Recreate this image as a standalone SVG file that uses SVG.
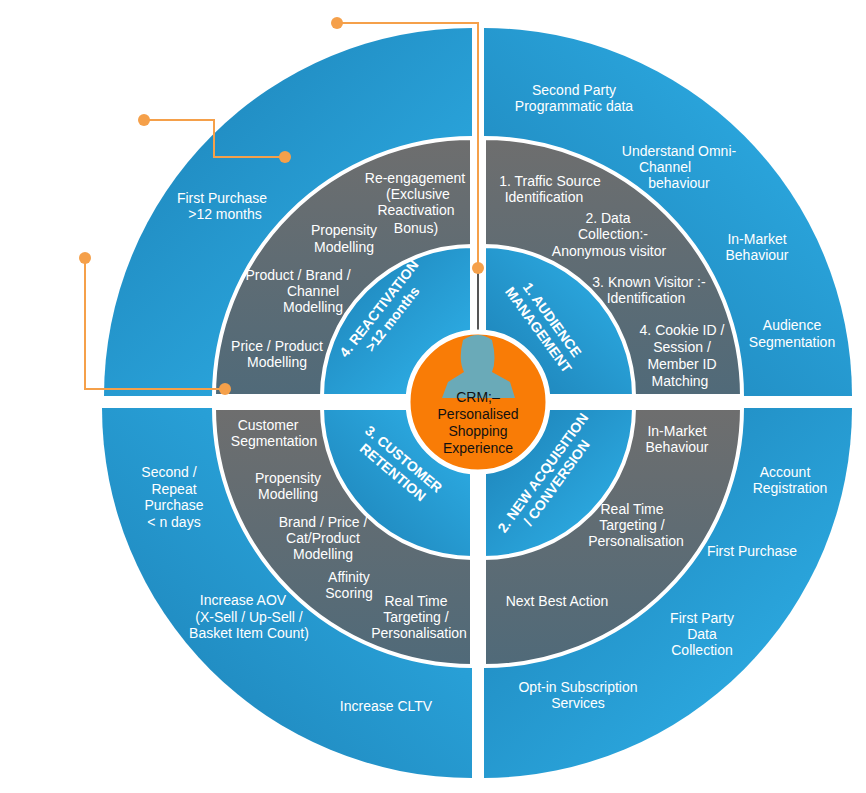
<svg xmlns="http://www.w3.org/2000/svg" width="866" height="793" viewBox="0 0 866 793">
<defs>
<linearGradient id="gb" x1="0" y1="0" x2="1" y2="1"><stop offset="0" stop-color="#1c80b5"/><stop offset="1" stop-color="#30b4ec"/></linearGradient>
<linearGradient id="gb2" x1="1" y1="0" x2="0" y2="1"><stop offset="0" stop-color="#2fb2ea"/><stop offset="1" stop-color="#1c7fb4"/></linearGradient>
<linearGradient id="gg" x1="0" y1="0" x2="0" y2="1"><stop offset="0" stop-color="#6e6e6e"/><stop offset="1" stop-color="#506a79"/></linearGradient>
<style>
.t{font-family:"Liberation Sans",Arial,sans-serif;font-size:14px;fill:#fff;text-anchor:middle}
.h{font-family:"Liberation Sans",Arial,sans-serif;font-size:14px;font-weight:bold;fill:#fff;text-anchor:middle}
.c{font-family:"Liberation Sans",Arial,sans-serif;font-size:14px;fill:#111;text-anchor:middle}
.ring{stroke:#fff;stroke-width:4}
.con{fill:none;stroke:#f5a04a;stroke-width:2}
.dot{fill:#f5a04a}
</style>
</defs>
<rect width="866" height="793" fill="#fff"/>
<g id="q-tl">
<path d="M104 396 A368 368 0 0 1 472 28 L472 396 Z" fill="url(#gb)"/>
<path class="ring" d="M214 396 A258 258 0 0 1 472 138 L472 396 Z" fill="url(#gg)"/>
<path class="ring" d="M322 396 A150 150 0 0 1 472 246 L472 396 Z" fill="url(#gb)"/>
</g>
<g id="q-tr">
<path d="M484 28 A368 368 0 0 1 852 396 L484 396 Z" fill="url(#gb2)"/>
<path class="ring" d="M484 138 A258 258 0 0 1 742 396 L484 396 Z" fill="url(#gg)"/>
<path class="ring" d="M484 246 A150 150 0 0 1 634 396 L484 396 Z" fill="url(#gb2)"/>
</g>
<g id="q-bl">
<path d="M472 778 A370 370 0 0 1 102 408 L472 408 Z" fill="url(#gb2)"/>
<path class="ring" d="M472 666 A258 258 0 0 1 214 408 L472 408 Z" fill="url(#gg)"/>
<path class="ring" d="M472 558 A150 150 0 0 1 322 408 L472 408 Z" fill="url(#gb2)"/>
</g>
<g id="q-br">
<path d="M852 408 A370 370 0 0 1 484 778 L484 408 Z" fill="url(#gb)"/>
<path class="ring" d="M742 408 A258 258 0 0 1 484 666 L484 408 Z" fill="url(#gg)"/>
<path class="ring" d="M634 408 A150 150 0 0 1 484 558 L484 408 Z" fill="url(#gb)"/>
</g>
<g id="connectors">
<line x1="478" y1="30" x2="478" y2="400" stroke="#555" stroke-width="2"/>
<polyline class="con" points="337,23 478,23 478,268"/>
<polyline class="con" points="144,120 214,120 214,157 285,157"/>
<polyline class="con" points="85,258 85,389 225,389"/>
<circle class="dot" cx="337" cy="23" r="6"/><circle class="dot" cx="478" cy="268" r="6"/>
<circle class="dot" cx="144" cy="120" r="6"/><circle class="dot" cx="285" cy="157" r="6"/>
<circle class="dot" cx="85" cy="258" r="6"/><circle class="dot" cx="225" cy="389" r="6"/>
</g>
<g id="center">
<circle cx="478" cy="402" r="70" fill="#f97c06" stroke="#fff" stroke-width="5"/>
<path d="M463 340 Q478 330 492 340 Q497 360 492 372 L510 382 L515 398 L442 398 L448 382 L464 372 Q458 360 463 340 Z" fill="#6aaab8"/>
<text class="c" x="478" y="402">CRM;–</text>
<text class="c" x="478" y="419">Personalised</text>
<text class="c" x="478" y="436">Shopping</text>
<text class="c" x="478" y="453">Experience</text>
</g>
<g id="inner-labels">
<text class="h" transform="translate(545,325) rotate(54)"><tspan x="0" y="-4">1. AUDIENCE</tspan><tspan x="0" y="13">MANAGEMENT</tspan></text>
<text class="h" transform="translate(386,314) rotate(-52)"><tspan x="0" y="-4">4. REACTIVATION</tspan><tspan x="0" y="13">&gt;12 months</tspan></text>
<text class="h" transform="translate(398,466) rotate(40)"><tspan x="0" y="-4">3. CUSTOMER</tspan><tspan x="0" y="13">RETENTION</tspan></text>
<text class="h" transform="translate(550,478) rotate(-54)"><tspan x="0" y="-4">2. NEW ACQUISITION</tspan><tspan x="0" y="13">/ CONVERSION</tspan></text>
</g>
<g id="tl-text">
<text class="t"><tspan x="222" y="203">First Purchase</tspan><tspan x="225" y="219">&gt;12 months</tspan></text>
<text class="t"><tspan x="415" y="183">Re-engagement</tspan><tspan x="418" y="199">(Exclusive</tspan><tspan x="416" y="215">Reactivation</tspan><tspan x="416" y="233">Bonus)</tspan></text>
<text class="t"><tspan x="344" y="235">Propensity</tspan><tspan x="344" y="252">Modelling</tspan></text>
<text class="t"><tspan x="298" y="280">Product / Brand /</tspan><tspan x="313" y="296">Channel</tspan><tspan x="313" y="312">Modelling</tspan></text>
<text class="t"><tspan x="277" y="351">Price / Product</tspan><tspan x="277" y="367">Modelling</tspan></text>
</g>
<g id="tr-text">
<text class="t"><tspan x="574" y="95">Second Party</tspan><tspan x="574" y="111">Programmatic data</tspan></text>
<text class="t"><tspan x="679" y="156">Understand Omni-</tspan><tspan x="665" y="172">Channel</tspan><tspan x="679" y="188">behaviour</tspan></text>
<text class="t"><tspan x="757" y="244">In-Market</tspan><tspan x="757" y="260">Behaviour</tspan></text>
<text class="t"><tspan x="792" y="330">Audience</tspan><tspan x="792" y="347">Segmentation</tspan></text>
<text class="t"><tspan x="550" y="186">1. Traffic Source</tspan><tspan x="544" y="202">Identification</tspan></text>
<text class="t"><tspan x="608" y="223">2. Data</tspan><tspan x="613" y="239">Collection:-</tspan><tspan x="609" y="256">Anonymous  visitor</tspan></text>
<text class="t"><tspan x="649" y="287">3. Known Visitor :-</tspan><tspan x="646" y="303">Identification</tspan></text>
<text class="t"><tspan x="682" y="335">4. Cookie ID /</tspan><tspan x="682" y="352">Session /</tspan><tspan x="682" y="369">Member ID</tspan><tspan x="680" y="386">Matching</tspan></text>
</g>
<g id="bl-text">
<text class="t"><tspan x="268" y="430">Customer</tspan><tspan x="274" y="446">Segmentation</tspan></text>
<text class="t"><tspan x="288" y="483">Propensity</tspan><tspan x="288" y="499">Modelling</tspan></text>
<text class="t"><tspan x="323" y="527">Brand / Price /</tspan><tspan x="323" y="543">Cat/Product</tspan><tspan x="323" y="559">Modelling</tspan></text>
<text class="t"><tspan x="349" y="582">Affinity</tspan><tspan x="349" y="598">Scoring</tspan></text>
<text class="t"><tspan x="416" y="606">Real Time</tspan><tspan x="416" y="622">Targeting /</tspan><tspan x="419" y="638">Personalisation</tspan></text>
<text class="t"><tspan x="169" y="477">Second /</tspan><tspan x="174" y="494">Repeat</tspan><tspan x="174" y="510">Purchase</tspan><tspan x="174" y="527">&lt; n days</tspan></text>
<text class="t"><tspan x="243" y="605">Increase AOV</tspan><tspan x="249" y="622">(X-Sell / Up-Sell /</tspan><tspan x="249" y="638">Basket Item Count)</tspan></text>
<text class="t" x="386" y="711">Increase CLTV</text>
</g>
<g id="br-text">
<text class="t"><tspan x="677" y="436">In-Market</tspan><tspan x="677" y="452">Behaviour</tspan></text>
<text class="t"><tspan x="632" y="514">Real Time</tspan><tspan x="632" y="530">Targeting /</tspan><tspan x="636" y="546">Personalisation</tspan></text>
<text class="t" x="557" y="606">Next Best Action</text>
<text class="t"><tspan x="785" y="477">Account</tspan><tspan x="790" y="493">Registration</tspan></text>
<text class="t" x="752" y="556">First Purchase</text>
<text class="t"><tspan x="702" y="623">First Party</tspan><tspan x="702" y="639">Data</tspan><tspan x="702" y="655">Collection</tspan></text>
<text class="t"><tspan x="578" y="692">Opt-in Subscription</tspan><tspan x="578" y="708">Services</tspan></text>
</g>
</svg>
